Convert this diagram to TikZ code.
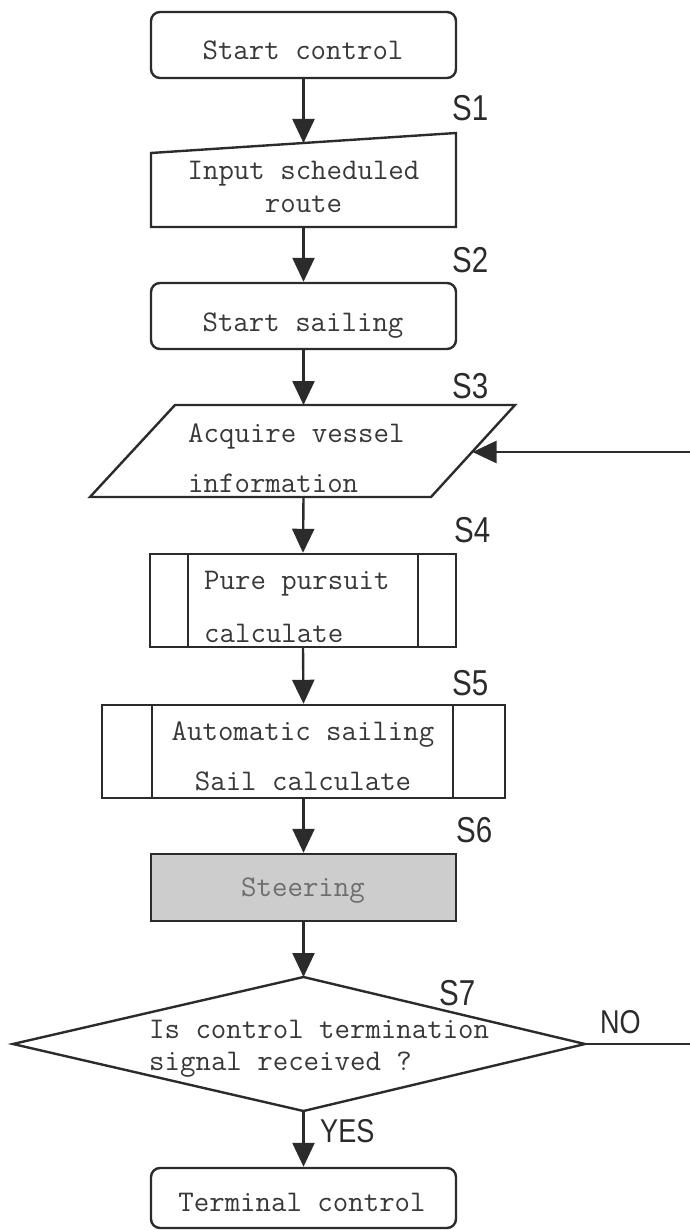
\documentclass[tikz,border=0pt]{standalone}
\usepackage{fontspec}
\newfontfamily\labelfont[FakeStretch=0.82]{Liberation Sans}
\usetikzlibrary{arrows.meta}
\definecolor{ink}{HTML}{2B2B2B}
\definecolor{txt}{HTML}{383838}
\definecolor{shade}{HTML}{CDCDCD}
\definecolor{softtxt}{HTML}{6E6E6E}

\begin{document}
\begin{tikzpicture}[x=1pt,y=-1pt,
  outline/.style={draw=ink, line width=2.4pt, line join=miter},
  procbox/.style={outline, rectangle, inner sep=0pt},
  endbox/.style={procbox, rounded corners=9pt},
  flow/.style={draw=ink, line width=2.4pt, -{Triangle[length=24pt,width=22pt]}},
  mono/.style={font=\ttfamily\fontsize{30}{34}\selectfont, text=txt, inner sep=0pt},
  tag/.style={font=\labelfont\fontsize{36}{40}\selectfont, text=ink, inner sep=0pt, anchor=base west},
  answer/.style={font=\labelfont\fontsize{33}{36}\selectfont, text=ink, inner sep=0pt, anchor=base west}]

\useasboundingbox (0,0) rectangle (689,1230);

% ---- boxes ----
\node[endbox, minimum width=305pt, minimum height=66pt] (start) at (303.5,45) {};
\node[endbox, minimum width=305pt, minimum height=66pt] (sail) at (303.5,316) {};
\node[procbox, minimum width=306pt, minimum height=93pt] (pure) at (303,600.5) {};
\node[procbox, minimum width=403pt, minimum height=93pt] (auto) at (303.5,751.5) {};
\node[procbox, fill=shade, minimum width=305pt, minimum height=67pt] (steer) at (303.5,887.5) {};
\node[endbox, minimum width=305pt, minimum height=60pt] (finish) at (303.5,1198) {};

% predefined-process side bars
\draw[outline] (188,554) -- (188,647);
\draw[outline] (418,554) -- (418,647);
\draw[outline] (152,705) -- (152,798);
\draw[outline] (453,705) -- (453,798);

% manual input (S1)
\draw[outline] (151,153) -- (456,133) -- (456,227) -- (151,227) -- cycle;
\coordinate (inTop) at (303.5,143);
\coordinate (inBot) at (303.5,227);

% data input parallelogram (S3)
\draw[outline] (175,405) -- (515,405) -- (431,497) -- (90,497) -- cycle;
\coordinate (parTop) at (303.5,405);
\coordinate (parBot) at (303.5,497);
\coordinate (parIn) at (472.5,452);

% decision (S7)
\draw[outline] (303.5,977) -- (585,1044) -- (303.5,1111) -- (13,1044) -- cycle;
\coordinate (diaTop) at (303.5,977);
\coordinate (diaRight) at (585,1044);
\coordinate (diaBot) at (303.5,1111);

% return path, its far side runs just outside the frame
\coordinate (loopA) at (700,1044);
\coordinate (loopB) at (700,452);

% ---- texts ----
\node[mono, anchor=base] (tStart) at (303,60) {Start control};
\node[mono, anchor=base] (tIn1) at (303.5,180) {Input scheduled};
\node[mono, anchor=base] (tIn2) at (303.5,213) {route};
\node[mono, anchor=base] (tSail) at (303,331) {Start sailing};
\node[mono, anchor=base west] (tAcq1) at (188,442) {Acquire vessel};
\node[mono, anchor=base west] (tAcq2) at (188,492) {information};
\node[mono, anchor=base west] (tPure1) at (204,589) {Pure pursuit};
\node[mono, anchor=base west] (tPure2) at (204,642) {calculate};
\node[mono, anchor=base] (tAuto1) at (303,740) {Automatic sailing};
\node[mono, anchor=base] (tAuto2) at (303,790) {Sail calculate};
\node[mono, anchor=base, text=softtxt] (tSteer) at (303,896) {Steering};
\node[mono, anchor=base west] (tDec1) at (149,1038) {Is control termination};
\node[mono, anchor=base west] (tDec2) at (149,1070) {signal received ?};
\node[mono, anchor=base] (tEnd) at (302,1211) {Terminal control};

% step labels
\node[tag] (s1) at (452,121) {S1};
\node[tag] (s2) at (452,273) {S2};
\node[tag] (s3) at (452,398) {S3};
\node[tag] (s4) at (454,542) {S4};
\node[tag] (s5) at (452,695) {S5};
\node[tag] (s6) at (456,842) {S6};
\node[tag] (s7) at (439,1005) {S7};
\node[answer] (no) at (600,1033) {NO};
\node[answer] (yes) at (320,1142) {YES};

% ---- connectors ----
\draw[flow] (start.south) -- (inTop);
\draw[flow] (inBot) -- (sail.north);
\draw[flow] (sail.south) -- (parTop);
\draw[flow] (parBot) -- (pure.north);
\draw[flow] (pure.south) -- (auto.north);
\draw[flow] (auto.south) -- (steer.north);
\draw[flow] (steer.south) -- (diaTop);
\draw[flow] (diaBot) -- (finish.north);
\draw[flow] (diaRight) -- (loopA) -- (loopB) -- (parIn);

\end{tikzpicture}
\end{document}
